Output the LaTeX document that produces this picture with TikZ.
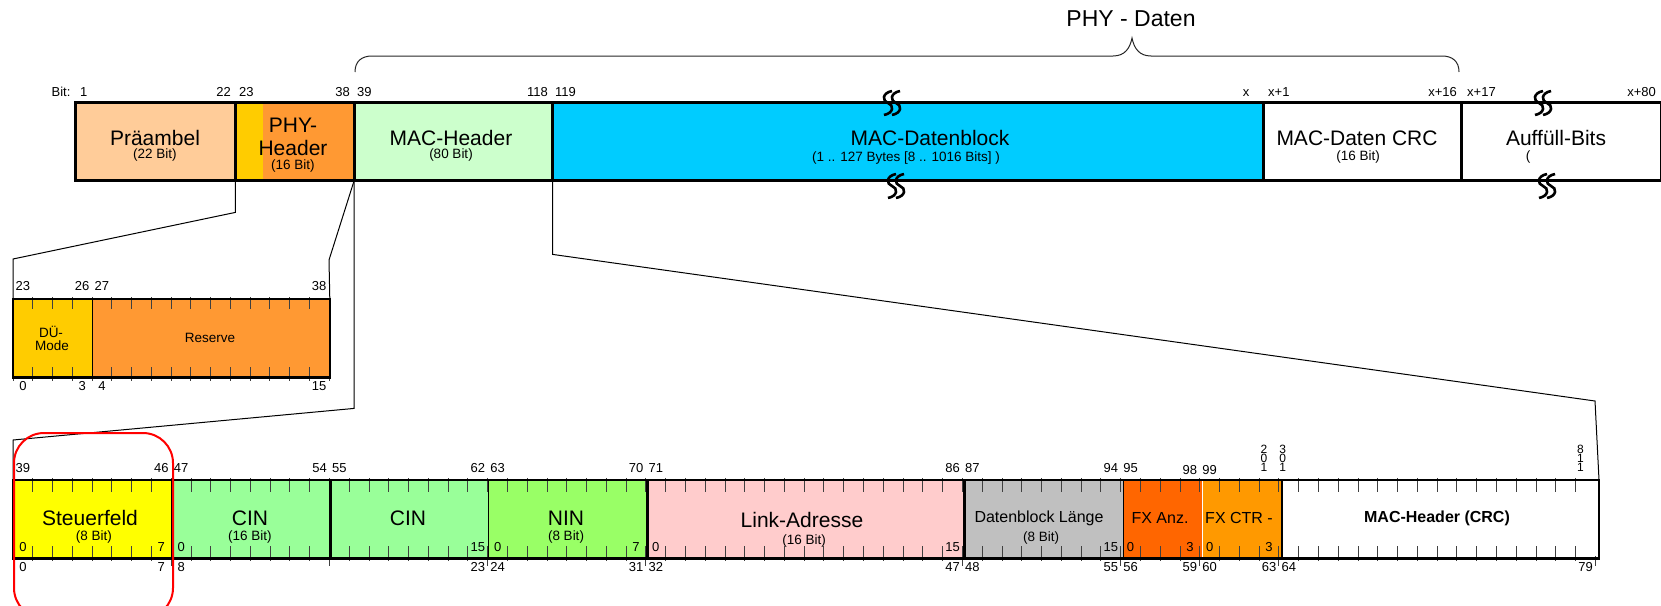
\documentclass[tikz,border=0pt]{standalone}
\usepackage{fontspec}
\setmainfont{Liberation Sans}
\usetikzlibrary{positioning}
\definecolor{praeamb}{HTML}{FFCC99}
\definecolor{duemode}{HTML}{FFCC00}
\definecolor{phyhead}{HTML}{FF9933}
\definecolor{machead}{HTML}{CCFFCC}
\definecolor{macdata}{HTML}{00CCFF}
\definecolor{steuer}{HTML}{FFFF00}
\definecolor{cinfld}{HTML}{99FF99}
\definecolor{ninfld}{HTML}{99FF66}
\definecolor{linkfld}{HTML}{FFCCCC}
\definecolor{dblfld}{HTML}{C0C0C0}
\definecolor{fxanz}{HTML}{FF6600}
\definecolor{fxctr}{HTML}{FF9900}
\tikzstyle{field} = [rectangle, inner sep=0pt, minimum height=78pt, anchor=north west]
\tikzstyle{thickline} = [draw, line width=3pt]
\tikzstyle{midline} = [draw, line width=2.5pt]
\tikzstyle{lbl} = [inner sep=0pt, font=\fontsize{21}{21}\selectfont]
\tikzstyle{mlbl} = [inner sep=0pt, font=\fontsize{16}{16}\selectfont]
\tikzstyle{sublbl} = [inner sep=0pt, font=\fontsize{13.5}{13.5}\selectfont]
\tikzstyle{num} = [inner sep=0pt, font=\fontsize{13}{13}\selectfont]
\tikzstyle{stack} = [num, align=center, anchor=south, font={\fontsize{12}{9.2}\selectfont\lineskiplimit=-20pt}]
\tikzstyle{tick} = [draw=black!75, line width=1pt]
\tikzstyle{edge} = [draw, line width=1pt]
\tikzstyle{squig} = [draw, line width=2.6pt]

\begin{document}
\begin{tikzpicture}[x=1pt, y=-1pt, node distance=0pt]
    \useasboundingbox (0,0) rectangle (1661,605);

    % top bar
    \node[field, fill=praeamb, minimum width=160pt] (pre) at (75,102) {};
    \node[field, fill=duemode, minimum width=27pt, right=of pre] (phy0) {};
    \node[field, fill=phyhead, minimum width=91pt, right=of phy0] (phy) {};
    \node[field, fill=machead, minimum width=198pt, right=of phy] (mach) {};
    \node[field, fill=macdata, minimum width=710pt, right=of mach] (macd) {};
    \node[field, fill=white, minimum width=198pt, right=of macd] (macc) {};
    \node[field, fill=white, minimum width=200pt, right=of macc] (auff) {};
    \draw[thickline] (pre.north west) rectangle (auff.south east);
    \foreach \n in {pre,phy,mach,macd,macc}
      \draw[thickline] (\n.north east) -- (\n.south east);

    \node[lbl] (tpre) at (155,138) {Präambel};
    \node[sublbl] (spre) at (155,155) {(22 Bit)};
    \node[lbl] (tphya) at (293,125) {PHY-};
    \node[lbl] (tphyb) at (293,148) {Header};
    \node[sublbl] (sphy) at (293,166) {(16 Bit)};
    \node[lbl] (tmach) at (451,138) {MAC-Header};
    \node[sublbl] (smach) at (451,155) {(80 Bit)};
    \node[lbl] (tmacd) at (930,138) {MAC-Datenblock};
    \node[sublbl] (smacd) at (906,158) {(1 .. 127 Bytes [8 .. 1016 Bits] )};
    \node[lbl] (tmacc) at (1357,138) {MAC-Daten CRC};
    \node[sublbl] (smacc) at (1358,157) {(16 Bit)};
    \node[lbl] (tauff) at (1556,138) {Auffüll-Bits};
    \node[sublbl] (sauff) at (1528,157) {(};

    % break marks
    \foreach \x/\y in {892/103, 896/186, 1543/103, 1547/186}
      \foreach \o in {-4,4}
        \draw[squig] (\x+\o+4,\y-12) .. controls (\x+\o-6,\y-10) and (\x+\o-6,\y-2) .. (\x+\o,\y)
                     .. controls (\x+\o+6,\y+2) and (\x+\o+6,\y+10) .. (\x+\o-4,\y+12);

    % bit numbers of the top bar
    \node[num, anchor=base] (bit) at (61,96) {Bit:};
    \foreach \t/\x in {1/80, 23/239, 39/357, 119/555, x+1/1268, x+17/1467}
      \node[num, anchor=base west] (tw\x) at (\x,96) {\t};
    \foreach \t/\x in {22/231, 38/350, 118/548, x+16/1457, x+80/1656}
      \node[num, anchor=base east] (te\x) at (\x,96) {\t};
    \node[num, anchor=base] (tx) at (1246,96) {x};

    % brace
    \node[inner sep=0pt, font=\fontsize{23}{23}\selectfont] (phyd) at (1131,19) {PHY - Daten};
    \draw[line width=1pt, black!85] (355,72) .. controls (355,61) and (362,56) .. (372,56) -- (1113,56)
        .. controls (1125,56) and (1130,48) .. (1132,38) .. controls (1134,48) and (1139,56) .. (1151,56)
        -- (1442,56) .. controls (1452,56) and (1459,61) .. (1459,72);

    % PHY-Header detail
    \node[field, fill=duemode, minimum width=79pt] (dm) at (13,299) {};
    \node[field, fill=phyhead, minimum width=237pt, right=of dm] (res) {};
    \foreach \k in {1,...,15} {
      \draw[tick] ({13+\k*19.75},297) -- ++(0,12);
      \draw[tick] ({13+\k*19.75},367) -- ++(0,14);
    }
    \draw[tick] (13,377) -- ++(0,4);
    \draw[tick] (329,377) -- ++(0,4);
    \draw[edge] (dm.north east) -- (dm.south east);
    \draw[midline] (dm.north west) rectangle (res.south east);
    \node[sublbl] (tdma) at (51,332) {DÜ-};
    \node[sublbl] (tdmb) at (52,346) {Mode};
    \node[sublbl] (tres) at (210,338) {Reserve};
    \foreach \t/\k in {23/0, 26/3, 27/4, 38/15}
      \node[num, anchor=base] (dt\k) at ({13+(\k+0.5)*19.75},290) {\t};
    \foreach \k in {0,3,4,15}
      \node[num, anchor=base] (db\k) at ({13+(\k+0.5)*19.75},390) {\k};

    % MAC-Header detail
    \node[field, fill=steuer, minimum width=158.24pt] (steu) at (13,480) {};
    \node[field, fill=cinfld, minimum width=158.24pt, right=of steu] (cina) {};
    \node[field, fill=cinfld, minimum width=158.24pt, right=of cina] (cinb) {};
    \node[field, fill=ninfld, minimum width=158.24pt, right=of cinb] (nin) {};
    \node[field, fill=linkfld, minimum width=316.48pt, right=of nin] (link) {};
    \node[field, fill=dblfld, minimum width=158.24pt, right=of link] (dbl) {};
    \node[field, fill=fxanz, minimum width=79.12pt, right=of dbl] (fxa) {};
    \node[field, fill=fxctr, minimum width=79.12pt, right=of fxa] (fxc) {};
    \node[field, fill=white, minimum width=316.48pt, right=of fxc] (crc) {};
    \foreach \k in {1,...,79} {
      \draw[tick] ({13+\k*19.78},478) -- ++(0,14);
      \draw[tick] ({13+\k*19.78},546) -- ++(0,15);
    }
    \foreach \k in {0,8,16,24,32,48,56,60,64,80}
      \draw[tick] ({13+\k*19.78},556) -- ++(0,10);
    \foreach \n in {steu,cinb,dbl}
      \draw[edge] (\n.north east) -- (\n.south east);
    \foreach \n in {cina,nin,link,fxc}
      \draw[midline] (\n.north east) -- (\n.south east);
    \draw[midline] (steu.north west) rectangle (crc.south east);

    \node[lbl] (tsteu) at (90,518) {Steuerfeld};
    \node[sublbl] (ssteu) at (94,537) {(8 Bit)};
    \node[lbl] (tcina) at (250,518) {CIN};
    \node[sublbl] (scina) at (250,537) {(16 Bit)};
    \node[lbl] (tcinb) at (408,518) {CIN};
    \node[lbl] (tnin) at (566,518) {NIN};
    \node[sublbl] (snin) at (566,537) {(8 Bit)};
    \node[lbl] (tlink) at (802,520) {Link-Adresse};
    \node[sublbl] (slink) at (804,541) {(16 Bit)};
    \node[mlbl] (tdbl) at (1039,518) {Datenblock Länge};
    \node[sublbl] (sdbl) at (1041,538) {(8 Bit)};
    \node[mlbl] (tfxa) at (1160,518) {FX Anz.};
    \node[mlbl] (tfxc) at (1239,518) {FX CTR -};
    \node[mlbl, font=\fontsize{16}{16}\selectfont\bfseries] (tcrc) at (1437,518) {MAC-Header (CRC)};

    \foreach \t/\k/\y in {39/0/472, 46/7/472, 47/8/472, 54/15/472, 55/16/472, 62/23/472, 63/24/472,
                          70/31/472, 71/32/472, 86/47/472, 87/48/472, 94/55/472, 95/56/472, 98/59/474, 99/60/474}
      \node[num, anchor=base] (mt\k) at ({13+(\k+0.5)*19.78},\y) {\t};
    \node[stack] (mt63) at ({13+63.5*19.78-5},472) {2\\0\\1};
    \node[stack] (mt64) at ({13+64.5*19.78-6},472) {3\\0\\1};
    \node[stack] (mt79) at ({13+79.5*19.78-5},472) {8\\1\\1};
    \foreach \t/\k in {0/0, 7/7, 0/8, 15/23, 0/24, 7/31, 0/32, 15/47, 15/55, 0/56, 3/59, 0/60, 3/63}
      \node[num, anchor=base] (mi\k) at ({13+(\k+0.5)*19.78},551) {\t};
    \foreach \k in {0,7,8,23,24,31,32,47,48,55,56,59,60,63,64,79}
      \node[num, anchor=base] (mb\k) at ({13+(\k+0.5)*19.78},571) {\k};

    % connectors
    \draw[edge] (pre.south east) -- ++(0,32) -- (13,259) -- (dm.north west);
    \draw[edge] (phy.south east) -- (329,260) -- (res.north east);
    \draw[edge] (mach.south west) -- ++(0,228) -- (13,440) -- (steu.north west);
    \draw[edge] (macd.south west) -- ++(0,74) -- (1595,401) -- (crc.north east);

    \node[draw=red, line width=2pt, rounded corners=30pt, minimum width=159pt, minimum height=185pt,
          anchor=north west] (mark) at (13,432) {};
\end{tikzpicture}
\end{document}
